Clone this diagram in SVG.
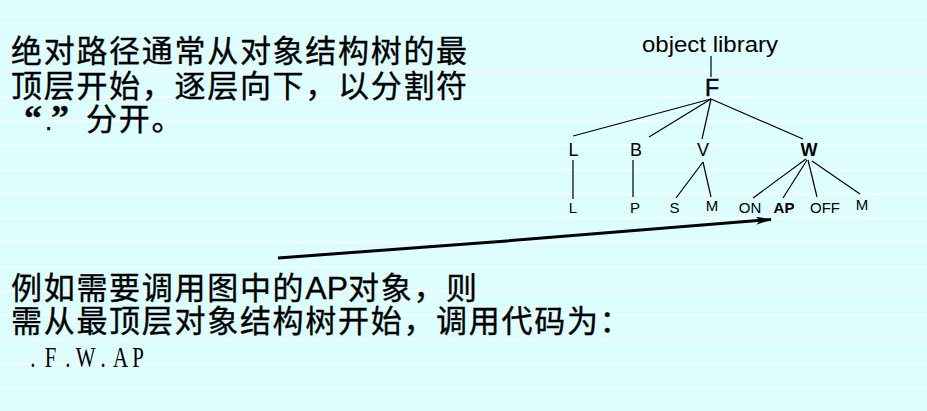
<svg xmlns="http://www.w3.org/2000/svg" width="927" height="411" viewBox="0 0 927 411">
<defs>
<style>
.bg{fill:#ddfdfe}
.stripe{stroke:#ffffff;stroke-width:1.5;opacity:0.8}
.cn{font-family:"Noto Sans CJK SC","Liberation Sans",sans-serif;font-size:31px;fill:#000;letter-spacing:1.7px;stroke:#000;stroke-width:0.35px}
.lat{font-family:"Liberation Sans",Arial,sans-serif;fill:#000}
.q{font-family:"Liberation Serif","Times New Roman",serif;font-weight:bold;font-size:36px;letter-spacing:0}
.mono{font-family:"Liberation Serif","Times New Roman",serif;font-size:29px;fill:#000;text-anchor:middle}
.l2{font-size:18px;text-anchor:middle}
.l3{font-size:15px;text-anchor:middle}
.b{font-weight:bold}
.edge{stroke:#000;stroke-width:1.2;fill:none}
.arrow{stroke:#000;stroke-width:3;fill:none}
</style>
<marker id="ah" viewBox="0 0 16 8" refX="15" refY="4" markerWidth="16" markerHeight="8" markerUnits="userSpaceOnUse" orient="auto">
<path d="M0,0 L16,4 L0,8 L4,4 Z" fill="#000"/>
</marker>
</defs>
<rect class="bg" x="0" y="0" width="927" height="411"/>
<g id="stripes">
<line class="stripe" x1="0" y1="23.5" x2="927" y2="23.5"/>
<line class="stripe" x1="0" y1="48" x2="927" y2="48"/>
<line class="stripe" x1="0" y1="72" x2="927" y2="72"/>
<line class="stripe" x1="0" y1="97" x2="927" y2="97"/>
<line class="stripe" x1="0" y1="121" x2="927" y2="121"/>
<line class="stripe" x1="0" y1="145" x2="927" y2="145"/>
<line class="stripe" x1="0" y1="170" x2="927" y2="170"/>
<line class="stripe" x1="0" y1="194" x2="927" y2="194"/>
<line class="stripe" x1="0" y1="218" x2="927" y2="218"/>
<line class="stripe" x1="0" y1="242" x2="927" y2="242"/>
<line class="stripe" x1="0" y1="267" x2="927" y2="267"/>
<line class="stripe" x1="0" y1="291" x2="927" y2="291"/>
<line class="stripe" x1="0" y1="315" x2="927" y2="315"/>
<line class="stripe" x1="0" y1="339" x2="927" y2="339"/>
<line class="stripe" x1="0" y1="364" x2="927" y2="364"/>
<line class="stripe" x1="0" y1="388" x2="927" y2="388"/>
</g>

<g id="text-top">
<text class="cn" x="11" y="62">绝对路径通常从对象结构树的最</text>
<text class="cn" x="11" y="97">顶层开始，逐层向下，以分割符</text>
<text class="cn" y="130"><tspan x="24" class="q">“</tspan><tspan x="45" class="lat" style="font-size:26px;letter-spacing:0">.</tspan><tspan x="51" class="q">”</tspan><tspan x="86">分开。</tspan></text>
</g>

<g id="text-bottom">
<text class="cn" x="11" y="299">例如需要调用图中的<tspan class="lat" style="font-size:32px;letter-spacing:0">AP</tspan>对象，则</text>
<text class="cn" x="11" y="332">需从最顶层对象结构树开始，调用代码为：</text>
<text class="mono" transform="scale(0.72,1)" x="45.8 70.1 94.4 118.75 143.1 167.4 191.7" y="367">.F.W.AP</text>
</g>

<g id="connectors">
<line class="edge" x1="711" y1="56" x2="711" y2="77"/>
<line class="edge" x1="711" y1="99" x2="573" y2="136"/>
<line class="edge" x1="711" y1="99" x2="649" y2="137"/>
<line class="edge" x1="711" y1="99" x2="702" y2="139"/>
<line class="edge" x1="711" y1="99" x2="803" y2="139"/>
<line class="edge" x1="573" y1="160" x2="573" y2="199"/>
<line class="edge" x1="633" y1="160" x2="633" y2="197"/>
<line class="edge" x1="703" y1="162" x2="676" y2="198"/>
<line class="edge" x1="703" y1="162" x2="711" y2="197"/>
<line class="edge" x1="806" y1="159" x2="753" y2="198"/>
<line class="edge" x1="807" y1="160" x2="783" y2="198"/>
<line class="edge" x1="808" y1="160" x2="817" y2="197"/>
<line class="edge" x1="812" y1="161" x2="860" y2="194"/>
<path class="arrow" d="M278,258 L500,241.5 L771,219.5" marker-end="url(#ah)"/>
</g>

<g id="node-root"><text class="lat" x="710" y="52" style="font-size:22px;text-anchor:middle" textLength="136" lengthAdjust="spacingAndGlyphs">object library</text></g>
<g id="node-F"><text class="lat" x="712" y="96" style="font-size:23px;text-anchor:middle;stroke:#000;stroke-width:0.5">F</text></g>
<g id="node-L1"><text class="lat l2" x="573.5" y="156">L</text></g>
<g id="node-B"><text class="lat l2" x="636" y="156">B</text></g>
<g id="node-V"><text class="lat l2" x="703" y="156">V</text></g>
<g id="node-W"><text class="lat l2 b" x="809" y="156">W</text></g>
<g id="node-L2"><text class="lat l3" x="573" y="213">L</text></g>
<g id="node-P"><text class="lat l3" x="635" y="213">P</text></g>
<g id="node-S"><text class="lat l3" x="674.5" y="213">S</text></g>
<g id="node-M1"><text class="lat l3" x="712" y="211">M</text></g>
<g id="node-ON"><text class="lat l3" x="750" y="213">ON</text></g>
<g id="node-AP"><text class="lat l3 b" x="784" y="213">AP</text></g>
<g id="node-OFF"><text class="lat l3" x="825" y="213">OFF</text></g>
<g id="node-M2"><text class="lat l3" x="862" y="210">M</text></g>
</svg>
